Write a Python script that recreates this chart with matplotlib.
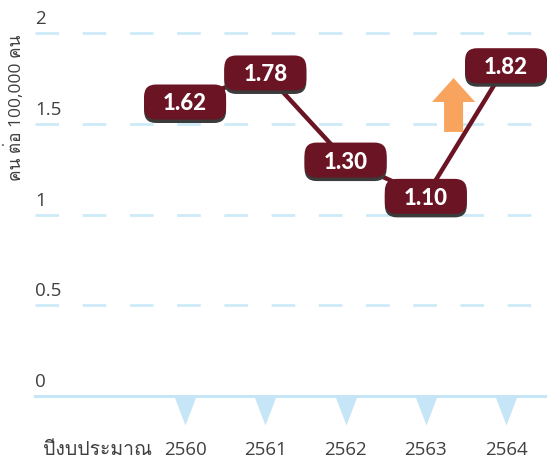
import numpy as np
import matplotlib
matplotlib.use("Agg")
import matplotlib.pyplot as plt
from matplotlib import font_manager
from matplotlib.ft2font import FT2Font
from matplotlib.patches import FancyArrow, FancyBboxPatch
import matplotlib.transforms as mtransforms

# data
years = ["2560", "2561", "2562", "2563", "2564"]
rates = [1.62, 1.78, 1.30, 1.10, 1.82]
ytick_vals = [0, 0.5, 1, 1.5, 2]
ytick_labels = ["0", "0.5", "1", "1.5", "2"]
ylabel = "คน ต่อ 100,000 คน"
xprefix = "ปีงบประมาณ"

# find something that can draw Thai
thai_fonts = []
for f in font_manager.fontManager.ttflist:
    try:
        if ord("ค") in FT2Font(f.fname).get_charmap():
            thai_fonts.append(f.name)
    except Exception:
        pass
thai_fonts = list(dict.fromkeys(thai_fonts))
plt.rcParams["font.family"] = ["Open Sans"] + thai_fonts + ["DejaVu Sans"]

line_c = "#6b1424"
shadow_c = "#3b3b3b"
grid_c = "#cdeaf8"
base_c = "#c6e6f8"
text_c = "#404040"
arrow_c = "#f8a45e"

fig = plt.figure(figsize=(5.47, 4.58), dpi=100)
ax = fig.add_axes([35 / 547, 62 / 458, 1 - 35 / 547, 396 / 458])
ax.set_xlim(-1.87, 4.51)
ax.set_ylim(0, 2.182)
ax.axis("off")

x = np.arange(len(years))

for v in ytick_vals[1:]:
    ax.axhline(v, color=grid_c, lw=2, dashes=(8.5, 8.5), zorder=0)
ax.axhline(0, color=base_c, lw=2.2, zorder=1, clip_on=False)

# little triangles under the baseline
tri = [(-0.38, 0), (0.38, 0), (0, -1)]
ax.plot(x, np.zeros_like(x), ls="none", marker=tri, ms=41.8,
        color=base_c, mec="none", clip_on=False, zorder=1)

# y tick labels sit on top of the grid lines
for v, lab in zip(ytick_vals, ytick_labels):
    ax.annotate(lab, (0, v), xycoords=("axes fraction", "data"),
                xytext=(0, 3.5), textcoords="offset points",
                ha="left", va="bottom", fontsize=13.5, color=text_c)

# x labels, all on one baseline
for xi, lab in zip(x, years):
    ax.annotate(lab, (xi, 0), xycoords=("data", "data"),
                xytext=(0, -42.5), textcoords="offset points",
                ha="center", va="baseline", fontsize=13.5, color=text_c,
                annotation_clip=False)
ax.annotate(xprefix, (x[0], 0), xycoords=("data", "data"),
            xytext=(-24, -42.5), textcoords="offset points",
            ha="right", va="baseline", fontsize=14, color=text_c,
            annotation_clip=False)

fig.text(15 / 547, 1 - 108 / 458, ylabel, rotation=90, ha="center",
         va="center", fontsize=12.5, color=text_c)

ax.plot(x, rates, color=line_c, lw=3.2, zorder=3, solid_capstyle="butt")

# rounded value boxes with a hard drop shadow (sizes in inches)
bw, bh = 0.82, 0.35
for xi, v in zip(x, rates):
    trans = fig.dpi_scale_trans + mtransforms.ScaledTranslation(xi, v, ax.transData)
    for dy, fc, z in [(-0.035, shadow_c, 4), (0, line_c, 5)]:
        ax.add_patch(FancyBboxPatch((-bw / 2, -bh / 2 + dy), bw, bh,
                                    boxstyle="round,pad=0,rounding_size=0.12",
                                    fc=fc, lw=0, transform=trans, zorder=z,
                                    clip_on=False))
    ax.text(xi, v, f"{v:.2f}", ha="center", va="center_baseline",
            fontsize=16, fontweight=900, family="Lato", color="white",
            zorder=6)

ax.add_patch(FancyArrow(3.346, 1.455, 0, 0.165, width=0.237,
                        head_width=0.536, head_length=0.132,
                        length_includes_head=False, color=arrow_c, lw=0,
                        zorder=2))

fig.savefig("out.png", dpi=100)
